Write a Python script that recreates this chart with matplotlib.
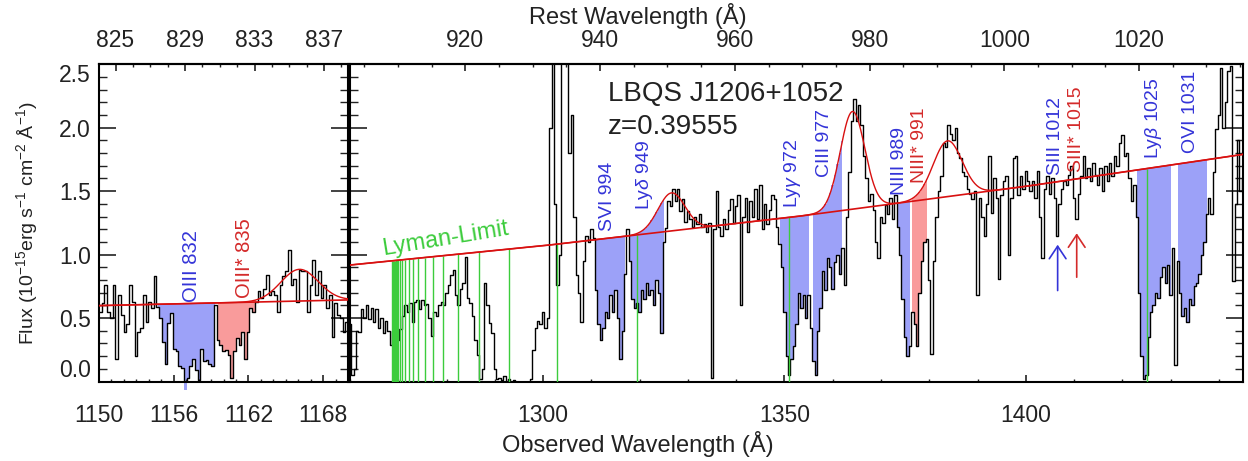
import numpy as np
import matplotlib
matplotlib.use('Agg')
import matplotlib.pyplot as plt
from matplotlib.ticker import MultipleLocator

# helvetica-like text, as in the IDL postscript original
plt.rcParams['font.family'] = ['Liberation Sans', 'DejaVu Sans']
plt.rcParams['mathtext.fontset'] = 'custom'
plt.rcParams['mathtext.rm'] = 'Liberation Sans'
plt.rcParams['mathtext.it'] = 'Liberation Sans:italic'

z_em = 0.39555

# ---------------- left panel (1150-1170 A) ----------------
left_flux = [0.55, 0.62, 0.76, 0.55, 0.50, 0.76, 0.18, 0.68, 0.525, 0.39,
             0.45, 0.76, 0.63, 0.20, 0.39, 0.42, 0.68, 0.47, 0.63, 0.58,
             0.83, 0.59, 0.50, 0.31, 0.14, 0.46, 0.54, 0.26, 0.24, 0.12,
             0.11, -0.07, 0.03, 0.12, 0.18, 0.09, 0.01, 0.26, 0.16, 0.17,
             0.14, 0.12, 0.60, 0.33, 0.29, 0.24, 0.25, 0.21, 0.03, 0.24,
             0.34, 0.29, 0.39, 0.18, 0.39, 0.58, 0.55, 0.63, 0.71, 0.66,
             0.73, 0.84, 0.68, 0.71, 0.68, 0.55, 0.76, 0.83, 0.87, 1.04,
             0.76, 0.81, 0.63, 0.88, 0.87, 0.87, 0.55, 0.76, 0.96, 0.68,
             0.87, 0.66, 0.76, 0.58, 0.68, 0.35, 0.62, 0.525, 0.50, 0.39,
             0.47]
left_cont_wave = [1150.0, 1170.0]
left_cont_flux = [0.598, 0.643]
left_gauss = [(1166.1, 0.25, 1.5)]          # center, amplitude, sigma
left_windows = [(1154.55, 1159.35, 'b'), (1159.45, 1162.8, 'r')]
left_labels = [('OIII 832', 1157.45, 0.63, 'b'), ('OIII* 835', 1161.7, 0.66, 'r')]

# ---------------- main panel (1260-1445 A, 0.5 A bins) ----------------
main_start = 1260.0
main_step = 0.5
main_flux = [
    0.45, 0.05, 0.10, 0.40, 0.39, 0.57, 0.50, 0.60, 0.49, 0.58, 0.47, 0.57, 0.42, 0.50, 0.38, 0.48, 0.40, 0.29, 0.40, 0.42,  # 1260
    0.33, 0.41, 0.52, 0.60, 0.55, 0.62, 0.47, 0.63, 0.64, 0.57, 0.64, 0.60, 0.61, 0.50, 0.36, 0.55, 0.52, 0.60, 0.63, 0.60,  # 1270
    0.70, 0.76, 0.84, 0.88, 0.68, 0.60, 0.73, 0.78, 0.98, 0.66, 0.62, 0.52, 0.33, 0.21, 0.02, 0.10, 0.78, 0.60, 0.46, 0.38,  # 1280
    0.10, 0.02, 0.03, 0.01, 0.04, 0.00, 0.02, 0.00, 0.01, 0.00, 0.00, 0.00, 0.00, 0.00, 0.00, 0.02, 0.25, 0.42, 0.48, 0.45,  # 1290
    0.55, 0.42, 0.50, 2.00, 3.00, 1.40, 0.76, 1.00, 3.00, 3.00, 3.00, 1.80, 2.10, 1.30, 0.84, 0.70, 0.47, 0.95, 1.15, 1.10,  # 1300
    1.20, 1.13, 0.72, 0.45, 0.33, 0.42, 0.55, 0.50, 0.68, 0.55, 0.72, 0.50, 0.18, 0.40, 0.85, 1.20, 0.95, 0.65, 0.58, 0.62,  # 1310
    0.55, 0.72, 0.65, 0.78, 0.68, 0.72, 0.60, 0.80, 0.70, 0.38, 1.10, 1.21, 1.42, 1.38, 1.52, 1.42, 1.52, 1.34, 1.44, 1.26,  # 1320
    1.34, 1.28, 1.22, 1.30, 1.24, 1.32, 1.22, 1.24, 1.18, 1.25, 0.03, 1.20, 1.50, 1.22, 1.15, 1.28, 1.20, 1.35, 1.44, 1.25,  # 1330
    1.38, 1.47, 0.60, 1.30, 1.45, 1.18, 1.42, 1.30, 1.52, 1.28, 1.55, 1.20, 1.40, 1.24, 1.35, 1.47, 1.44, 1.22, 1.08, 0.90,  # 1340
    0.55, 0.20, 0.05, 0.18, 0.28, 0.45, 0.70, 0.58, 0.68, 0.50, 0.68, 0.42, 0.16, 0.05, 0.40, 0.58, 0.87, 0.72, 0.97, 0.90,  # 1350
    0.73, 0.94, 1.00, 0.85, 1.05, 0.76, 1.30, 1.65, 2.05, 2.23, 2.05, 2.18, 2.02, 1.78, 1.60, 1.42, 1.48, 1.35, 1.10, 0.97,  # 1360
    1.30, 1.25, 1.39, 1.32, 1.45, 1.28, 1.47, 1.22, 1.00, 0.65, 0.35, 0.20, 0.28, 0.55, 0.45, 0.28, 0.70, 0.95, 1.10, 1.12,  # 1370
    0.80, 0.22, 0.95, 1.30, 1.50, 1.62, 1.88, 1.85, 2.02, 1.95, 1.90, 2.00, 1.80, 1.76, 1.65, 1.62, 1.52, 1.48, 1.44, 1.50,  # 1380
    0.68, 1.45, 1.30, 1.15, 1.40, 1.78, 1.33, 1.60, 1.45, 0.81, 1.47, 1.58, 1.62, 1.00, 1.45, 1.76, 1.78, 1.47, 1.62, 1.52,  # 1390
    1.66, 1.58, 1.50, 1.58, 1.45, 1.66, 1.30, 0.97, 1.52, 1.62, 1.48, 1.60, 1.45, 1.15, 1.40, 1.52, 1.58, 1.55, 1.63, 1.70,  # 1400
    1.45, 1.28, 1.48, 1.62, 1.78, 1.60, 1.68, 1.58, 1.72, 1.63, 1.55, 1.68, 1.50, 1.70, 1.58, 1.72, 1.62, 1.78, 1.70, 1.88,  # 1410
    1.94, 1.78, 1.80, 1.60, 1.42, 1.55, 1.30, 0.70, 0.20, 0.02, 0.05, 0.35, 0.55, 0.60, 0.70, 0.66, 0.82, 0.90, 0.78, 0.92,  # 1420
    0.68, 1.05, 0.13, 0.95, 0.70, 0.52, 0.58, 0.47, 0.65, 0.60, 0.75, 0.78, 0.85, 1.00, 1.10, 1.32, 1.45, 1.32, 1.65, 1.99,  # 1430
    2.10, 2.47, 2.00, 2.20, 2.45, 2.49, 0.79, 1.40, 1.90, 1.50, 1.60]                                                        # 1440

cont_wave = [1260.0, 1300.0, 1352.5, 1400.0, 1445.0]
cont_flux = [0.918, 1.070, 1.300, 1.538, 1.790]
gauss_center = [1326.6, 1364.1, 1383.8]
gauss_amp = [0.30, 0.77, 0.44]
gauss_sigma = [2.8, 2.55, 3.0]

main_windows = [(1310.5, 1317.5, 'b'), (1317.8, 1325.0, 'b'), (1349.0, 1355.2, 'b'),
                (1355.8, 1362.0, 'b'), (1373.4, 1376.0, 'b'), (1376.1, 1379.6, 'r'),
                (1406.1, 1406.9, 'b'), (1410.1, 1410.6, 'r'), (1422.8, 1430.0, 'b'),
                (1431.4, 1437.8, 'b')]
main_labels = [('SVI 994', 1313.4, 1.19, 'b'), (r'Ly$\delta$ 949', 1321.1, 1.35, 'b'),
               (r'Ly$\gamma$ 972', 1351.7, 1.364, 'b'), ('CIII 977', 1358.4, 1.613, 'b'),
               ('NIII 989', 1373.9, 1.469, 'b'), ('NIII* 991', 1377.9, 1.561, 'r'),
               ('SIII 1012', 1406.2, 1.626, 'b'), ('SIII* 1015', 1410.5, 1.652, 'r'),
               (r'Ly$\beta$ 1025', 1426.5, 1.75, 'b'), ('OVI 1031', 1434.2, 1.797, 'b')]
# Lyman series of the z=0.389 absorber (observed wavelengths)
lyman_lines = [1425.05, 1351.0, 1319.46, 1302.88, 1293.0, 1286.73, 1282.44, 1279.33,
               1277.2, 1275.47, 1274.09, 1273.05, 1272.16, 1271.39, 1270.84, 1270.36,
               1270.01, 1269.74, 1269.53, 1269.32, 1269.12, 1268.91, 1268.70]
arrows = [(1406.6, 0.695, 1.10, 'b'), (1410.55, 0.80, 1.19, 'r')]

fill_col = {'b': '#9ca1f8', 'r': '#f99b9b'}
text_col = {'b': '#3434d8', 'r': '#d42a2a'}
green = '#3ccc3c'
red_line = '#d81010'
ink = '#222222'
tick_fs = 16.5


def model(wave, cw, cf, gauss):
    m = np.interp(wave, cw, cf)
    for c, a, s in gauss:
        m = m + a * np.exp(-0.5 * ((wave - c) / s) ** 2)
    return m


def style(ax):
    ax.set_ylim(0, 2.5)
    ax.yaxis.set_major_locator(MultipleLocator(0.5))
    ax.yaxis.set_minor_locator(MultipleLocator(0.1))
    ax.tick_params(axis='both', which='both', direction='in', right=True, top=False,
                   colors=ink, labelsize=tick_fs)
    ax.tick_params(axis='x', which='major', length=5, width=1.2, pad=16)
    ax.tick_params(axis='x', which='minor', length=2.5, width=1.0)
    ax.tick_params(axis='y', which='major', length=12, width=1.2, pad=6)
    ax.tick_params(axis='y', which='minor', length=6, width=1.0)
    for s in ax.spines.values():
        s.set_linewidth(1.5)


def top_axis(ax, major, minor):
    sec = ax.secondary_xaxis('top', functions=(lambda x: x / (1 + z_em), lambda x: x * (1 + z_em)))
    sec.set_xticks(major)
    sec.set_xticks(minor, minor=True)
    sec.tick_params(axis='x', which='both', direction='in', colors=ink, labelsize=tick_fs, pad=9)
    sec.tick_params(axis='x', which='major', length=5, width=1.2)
    sec.tick_params(axis='x', which='minor', length=2.5, width=1.0)
    sec.spines['top'].set_linewidth(1.5)
    return sec


fig = plt.figure(figsize=(12.48, 4.61), dpi=100)
ax_l = fig.add_axes([99 / 1248, 79.5 / 461, 249 / 1248, 317.2 / 461])
ax_m = fig.add_axes([350 / 1248, 79.5 / 461, 893 / 1248, 317.2 / 461])

# left panel
lw = np.array(left_flux)
lx = 1150 + (np.arange(len(lw)) + 0.5) * 20.0 / len(lw)
lmod = model(lx, left_cont_wave, left_cont_flux, left_gauss)
for lo, hi, c in left_windows:
    m = (lx >= lo) & (lx <= hi)
    ax_l.fill_between(lx, lw, lmod, where=m, step='mid', color=fill_col[c], lw=0,
                      zorder=1, clip_on=False)
ax_l.plot(lx, lw, drawstyle='steps-mid', color='k', lw=1.0, zorder=2)
fx = np.linspace(1150, 1170, 400)
ax_l.plot(fx, np.interp(fx, left_cont_wave, left_cont_flux), color=red_line, lw=1.2, zorder=4)
ax_l.plot(fx, model(fx, left_cont_wave, left_cont_flux, left_gauss), color=red_line, lw=1.0, zorder=4)
for t, x, y, c in left_labels:
    ax_l.text(x, y, t, rotation=90, ha='center', va='bottom', color=text_col[c], fontsize=14.5)
ax_l.set_xlim(1150, 1170)
ax_l.set_xticks([1150, 1156, 1162, 1168])
ax_l.set_xticks(np.arange(1150, 1171, 1), minor=True)
style(ax_l)
ax_l.set_yticks([0.0, 0.5, 1.0, 1.5, 2.0, 2.5])
ax_l.set_yticklabels(['0.0', '0.5', '1.0', '1.5', '2.0', '2.5'])
yt = ax_l.yaxis.get_major_ticks()
yt[0].label1.set_va('bottom')
yt[-1].label1.set_va('top')
top_axis(ax_l, [825, 829, 833, 837], np.arange(824, 839, 1))

# main panel
mf = np.array(main_flux)
mx = main_start + main_step * np.arange(len(mf))
gauss = list(zip(gauss_center, gauss_amp, gauss_sigma))
mmod = model(mx, cont_wave, cont_flux, gauss)
for lo, hi, c in main_windows:
    m = (mx >= lo) & (mx <= hi)
    ax_m.fill_between(mx, mf, mmod, where=m & (mf < mmod), step='mid', color=fill_col[c],
                      lw=0, zorder=1)
ax_m.plot(mx, mf, drawstyle='steps-mid', color='k', lw=1.0, zorder=2)
ly = np.array(lyman_lines)
ax_m.vlines(ly, 0, np.interp(ly, cont_wave, cont_flux), color=green, lw=1.0, zorder=3)
gx = np.linspace(1260, 1445, 1500)
ax_m.plot(gx, np.interp(gx, cont_wave, cont_flux), color=red_line, lw=1.2, zorder=4)
ax_m.plot(gx, model(gx, cont_wave, cont_flux, gauss), color=red_line, lw=1.0, zorder=4)
for t, x, y, c in main_labels:
    ax_m.text(x, y, t, rotation=90, ha='center', va='bottom', color=text_col[c], fontsize=14)
for x, y0, y1, c in arrows:
    ax_m.annotate('', xy=(x, y1), xytext=(x, y0),
                  arrowprops=dict(arrowstyle='->,head_length=0.45,head_width=0.3',
                                  color=text_col[c], lw=1.2, mutation_scale=20))
ax_m.text(1266.8, 0.997, 'Lyman-Limit', rotation=9.3, rotation_mode='anchor',
          ha='left', va='baseline', color=green, fontsize=17)
ax_m.text(1313.4, 2.211, 'LBQS J1206+1052', ha='left', va='baseline', color=ink, fontsize=20)
ax_m.text(1313.4, 1.954, 'z=0.39555', ha='left', va='baseline', color=ink, fontsize=20)
ax_m.set_xlim(1260, 1445)
ax_m.xaxis.set_major_locator(MultipleLocator(50))
ax_m.xaxis.set_minor_locator(MultipleLocator(10))
style(ax_m)
ax_m.tick_params(axis='y', labelleft=False)
top_axis(ax_m, np.arange(920, 1021, 20), np.arange(905, 1036, 5))

# axis titles
fig.text(638 / 1248, 1 - 444 / 461, 'Observed Wavelength (Å)', ha='center', va='center',
         fontsize=17, color=ink)
fig.text(638 / 1248, 1 - 16 / 461, 'Rest Wavelength (Å)', ha='center', va='center',
         fontsize=17, color=ink)
fig.text(27 / 1248, 1 - 223 / 461, 'Flux (10$^{-15}$erg s$^{-1}$ cm$^{-2}$ Å$^{-1}$)',
         rotation=90, ha='center', va='center', fontsize=14, color=ink)

plt.savefig('out.png', dpi=100)
